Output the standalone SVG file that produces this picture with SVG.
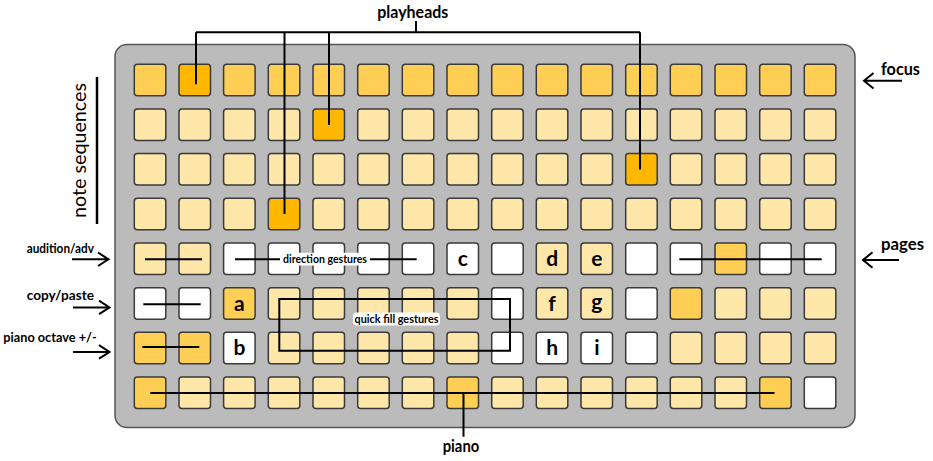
<svg xmlns="http://www.w3.org/2000/svg" width="933" height="461" viewBox="0 0 933 461">
<defs>
<style>
text{font-family:Lato,"Liberation Sans",sans-serif;fill:#000}
.k{stroke:#3a3a3a;stroke-width:1.5}
.m{fill:#FFCE55}.l{fill:#FFE6A9}.b{fill:#FFB700}.w{fill:#FFFFFF}
.ln{fill:none;stroke:#000;stroke-width:2}
.lab{font-weight:700;font-size:16.5px}
.sm{font-weight:700}
.ch{font-weight:700;font-size:21px;text-anchor:middle}
.tag{font-weight:700;font-size:10.5px;text-anchor:middle}
</style>
</defs>
<rect id="panel" x="115" y="44.5" width="740" height="383" rx="12" fill="#BBBBBB" stroke="#555" stroke-width="1.5"/>

<g id="grid">
<g id="r0">
<rect id="r0c0" class="k m" x="134.3" y="64.3" width="31.5" height="31.5" rx="3"/>
<rect id="r0c1" class="k b" x="179.0" y="64.3" width="31.5" height="31.5" rx="3"/>
<rect id="r0c2" class="k m" x="223.6" y="64.3" width="31.5" height="31.5" rx="3"/>
<rect id="r0c3" class="k m" x="268.3" y="64.3" width="31.5" height="31.5" rx="3"/>
<rect id="r0c4" class="k m" x="313.0" y="64.3" width="31.5" height="31.5" rx="3"/>
<rect id="r0c5" class="k m" x="357.7" y="64.3" width="31.5" height="31.5" rx="3"/>
<rect id="r0c6" class="k m" x="402.3" y="64.3" width="31.5" height="31.5" rx="3"/>
<rect id="r0c7" class="k m" x="447.0" y="64.3" width="31.5" height="31.5" rx="3"/>
<rect id="r0c8" class="k m" x="491.7" y="64.3" width="31.5" height="31.5" rx="3"/>
<rect id="r0c9" class="k m" x="536.3" y="64.3" width="31.5" height="31.5" rx="3"/>
<rect id="r0c10" class="k m" x="581.0" y="64.3" width="31.5" height="31.5" rx="3"/>
<rect id="r0c11" class="k m" x="625.7" y="64.3" width="31.5" height="31.5" rx="3"/>
<rect id="r0c12" class="k m" x="670.3" y="64.3" width="31.5" height="31.5" rx="3"/>
<rect id="r0c13" class="k m" x="715.0" y="64.3" width="31.5" height="31.5" rx="3"/>
<rect id="r0c14" class="k m" x="759.7" y="64.3" width="31.5" height="31.5" rx="3"/>
<rect id="r0c15" class="k m" x="804.3" y="64.3" width="31.5" height="31.5" rx="3"/>
</g>
<g id="r1">
<rect id="r1c0" class="k l" x="134.3" y="109.0" width="31.5" height="31.5" rx="3"/>
<rect id="r1c1" class="k l" x="179.0" y="109.0" width="31.5" height="31.5" rx="3"/>
<rect id="r1c2" class="k l" x="223.6" y="109.0" width="31.5" height="31.5" rx="3"/>
<rect id="r1c3" class="k l" x="268.3" y="109.0" width="31.5" height="31.5" rx="3"/>
<rect id="r1c4" class="k b" x="313.0" y="109.0" width="31.5" height="31.5" rx="3"/>
<rect id="r1c5" class="k l" x="357.7" y="109.0" width="31.5" height="31.5" rx="3"/>
<rect id="r1c6" class="k l" x="402.3" y="109.0" width="31.5" height="31.5" rx="3"/>
<rect id="r1c7" class="k l" x="447.0" y="109.0" width="31.5" height="31.5" rx="3"/>
<rect id="r1c8" class="k l" x="491.7" y="109.0" width="31.5" height="31.5" rx="3"/>
<rect id="r1c9" class="k l" x="536.3" y="109.0" width="31.5" height="31.5" rx="3"/>
<rect id="r1c10" class="k l" x="581.0" y="109.0" width="31.5" height="31.5" rx="3"/>
<rect id="r1c11" class="k l" x="625.7" y="109.0" width="31.5" height="31.5" rx="3"/>
<rect id="r1c12" class="k l" x="670.3" y="109.0" width="31.5" height="31.5" rx="3"/>
<rect id="r1c13" class="k l" x="715.0" y="109.0" width="31.5" height="31.5" rx="3"/>
<rect id="r1c14" class="k l" x="759.7" y="109.0" width="31.5" height="31.5" rx="3"/>
<rect id="r1c15" class="k l" x="804.3" y="109.0" width="31.5" height="31.5" rx="3"/>
</g>
<g id="r2">
<rect id="r2c0" class="k l" x="134.3" y="153.6" width="31.5" height="31.5" rx="3"/>
<rect id="r2c1" class="k l" x="179.0" y="153.6" width="31.5" height="31.5" rx="3"/>
<rect id="r2c2" class="k l" x="223.6" y="153.6" width="31.5" height="31.5" rx="3"/>
<rect id="r2c3" class="k l" x="268.3" y="153.6" width="31.5" height="31.5" rx="3"/>
<rect id="r2c4" class="k l" x="313.0" y="153.6" width="31.5" height="31.5" rx="3"/>
<rect id="r2c5" class="k l" x="357.7" y="153.6" width="31.5" height="31.5" rx="3"/>
<rect id="r2c6" class="k l" x="402.3" y="153.6" width="31.5" height="31.5" rx="3"/>
<rect id="r2c7" class="k l" x="447.0" y="153.6" width="31.5" height="31.5" rx="3"/>
<rect id="r2c8" class="k l" x="491.7" y="153.6" width="31.5" height="31.5" rx="3"/>
<rect id="r2c9" class="k l" x="536.3" y="153.6" width="31.5" height="31.5" rx="3"/>
<rect id="r2c10" class="k l" x="581.0" y="153.6" width="31.5" height="31.5" rx="3"/>
<rect id="r2c11" class="k b" x="625.7" y="153.6" width="31.5" height="31.5" rx="3"/>
<rect id="r2c12" class="k l" x="670.3" y="153.6" width="31.5" height="31.5" rx="3"/>
<rect id="r2c13" class="k l" x="715.0" y="153.6" width="31.5" height="31.5" rx="3"/>
<rect id="r2c14" class="k l" x="759.7" y="153.6" width="31.5" height="31.5" rx="3"/>
<rect id="r2c15" class="k l" x="804.3" y="153.6" width="31.5" height="31.5" rx="3"/>
</g>
<g id="r3">
<rect id="r3c0" class="k l" x="134.3" y="198.3" width="31.5" height="31.5" rx="3"/>
<rect id="r3c1" class="k l" x="179.0" y="198.3" width="31.5" height="31.5" rx="3"/>
<rect id="r3c2" class="k l" x="223.6" y="198.3" width="31.5" height="31.5" rx="3"/>
<rect id="r3c3" class="k b" x="268.3" y="198.3" width="31.5" height="31.5" rx="3"/>
<rect id="r3c4" class="k l" x="313.0" y="198.3" width="31.5" height="31.5" rx="3"/>
<rect id="r3c5" class="k l" x="357.7" y="198.3" width="31.5" height="31.5" rx="3"/>
<rect id="r3c6" class="k l" x="402.3" y="198.3" width="31.5" height="31.5" rx="3"/>
<rect id="r3c7" class="k l" x="447.0" y="198.3" width="31.5" height="31.5" rx="3"/>
<rect id="r3c8" class="k l" x="491.7" y="198.3" width="31.5" height="31.5" rx="3"/>
<rect id="r3c9" class="k l" x="536.3" y="198.3" width="31.5" height="31.5" rx="3"/>
<rect id="r3c10" class="k l" x="581.0" y="198.3" width="31.5" height="31.5" rx="3"/>
<rect id="r3c11" class="k l" x="625.7" y="198.3" width="31.5" height="31.5" rx="3"/>
<rect id="r3c12" class="k l" x="670.3" y="198.3" width="31.5" height="31.5" rx="3"/>
<rect id="r3c13" class="k l" x="715.0" y="198.3" width="31.5" height="31.5" rx="3"/>
<rect id="r3c14" class="k l" x="759.7" y="198.3" width="31.5" height="31.5" rx="3"/>
<rect id="r3c15" class="k l" x="804.3" y="198.3" width="31.5" height="31.5" rx="3"/>
</g>
<g id="r4">
<rect id="r4c0" class="k l" x="134.3" y="243.0" width="31.5" height="31.5" rx="3"/>
<rect id="r4c1" class="k l" x="179.0" y="243.0" width="31.5" height="31.5" rx="3"/>
<rect id="r4c2" class="k w" x="223.6" y="243.0" width="31.5" height="31.5" rx="3"/>
<rect id="r4c3" class="k w" x="268.3" y="243.0" width="31.5" height="31.5" rx="3"/>
<rect id="r4c4" class="k w" x="313.0" y="243.0" width="31.5" height="31.5" rx="3"/>
<rect id="r4c5" class="k w" x="357.7" y="243.0" width="31.5" height="31.5" rx="3"/>
<rect id="r4c6" class="k w" x="402.3" y="243.0" width="31.5" height="31.5" rx="3"/>
<g id="key-c"><rect class="k w" x="447.0" y="243.0" width="31.5" height="31.5" rx="3"/><text class="ch" x="462.8" y="266">c</text></g>
<rect id="r4c8" class="k w" x="491.7" y="243.0" width="31.5" height="31.5" rx="3"/>
<g id="key-d"><rect class="k l" x="536.3" y="243.0" width="31.5" height="31.5" rx="3"/><text class="ch" x="552.1" y="266">d</text></g>
<g id="key-e"><rect class="k l" x="581.0" y="243.0" width="31.5" height="31.5" rx="3"/><text class="ch" x="596.8" y="266">e</text></g>
<rect id="r4c11" class="k w" x="625.7" y="243.0" width="31.5" height="31.5" rx="3"/>
<rect id="r4c12" class="k w" x="670.3" y="243.0" width="31.5" height="31.5" rx="3"/>
<rect id="r4c13" class="k m" x="715.0" y="243.0" width="31.5" height="31.5" rx="3"/>
<rect id="r4c14" class="k w" x="759.7" y="243.0" width="31.5" height="31.5" rx="3"/>
<rect id="r4c15" class="k w" x="804.3" y="243.0" width="31.5" height="31.5" rx="3"/>
</g>
<g id="r5">
<rect id="r5c0" class="k w" x="134.3" y="287.7" width="31.5" height="31.5" rx="3"/>
<rect id="r5c1" class="k w" x="179.0" y="287.7" width="31.5" height="31.5" rx="3"/>
<g id="key-a"><rect class="k m" x="223.6" y="287.7" width="31.5" height="31.5" rx="3"/><text class="ch" x="239.4" y="310.7">a</text></g>
<rect id="r5c3" class="k l" x="268.3" y="287.7" width="31.5" height="31.5" rx="3"/>
<rect id="r5c4" class="k l" x="313.0" y="287.7" width="31.5" height="31.5" rx="3"/>
<rect id="r5c5" class="k l" x="357.7" y="287.7" width="31.5" height="31.5" rx="3"/>
<rect id="r5c6" class="k l" x="402.3" y="287.7" width="31.5" height="31.5" rx="3"/>
<rect id="r5c7" class="k l" x="447.0" y="287.7" width="31.5" height="31.5" rx="3"/>
<rect id="r5c8" class="k w" x="491.7" y="287.7" width="31.5" height="31.5" rx="3"/>
<g id="key-f"><rect class="k l" x="536.3" y="287.7" width="31.5" height="31.5" rx="3"/><text class="ch" x="552.1" y="310.7">f</text></g>
<g id="key-g"><rect class="k l" x="581.0" y="287.7" width="31.5" height="31.5" rx="3"/><text class="ch" x="596.8" y="308.7">g</text></g>
<rect id="r5c11" class="k w" x="625.7" y="287.7" width="31.5" height="31.5" rx="3"/>
<rect id="r5c12" class="k m" x="670.3" y="287.7" width="31.5" height="31.5" rx="3"/>
<rect id="r5c13" class="k l" x="715.0" y="287.7" width="31.5" height="31.5" rx="3"/>
<rect id="r5c14" class="k l" x="759.7" y="287.7" width="31.5" height="31.5" rx="3"/>
<rect id="r5c15" class="k l" x="804.3" y="287.7" width="31.5" height="31.5" rx="3"/>
</g>
<g id="r6">
<rect id="r6c0" class="k m" x="134.3" y="332.3" width="31.5" height="31.5" rx="3"/>
<rect id="r6c1" class="k m" x="179.0" y="332.3" width="31.5" height="31.5" rx="3"/>
<g id="key-b"><rect class="k w" x="223.6" y="332.3" width="31.5" height="31.5" rx="3"/><text class="ch" x="239.4" y="355.3">b</text></g>
<rect id="r6c3" class="k l" x="268.3" y="332.3" width="31.5" height="31.5" rx="3"/>
<rect id="r6c4" class="k l" x="313.0" y="332.3" width="31.5" height="31.5" rx="3"/>
<rect id="r6c5" class="k l" x="357.7" y="332.3" width="31.5" height="31.5" rx="3"/>
<rect id="r6c6" class="k l" x="402.3" y="332.3" width="31.5" height="31.5" rx="3"/>
<rect id="r6c7" class="k l" x="447.0" y="332.3" width="31.5" height="31.5" rx="3"/>
<rect id="r6c8" class="k w" x="491.7" y="332.3" width="31.5" height="31.5" rx="3"/>
<g id="key-h"><rect class="k w" x="536.3" y="332.3" width="31.5" height="31.5" rx="3"/><text class="ch" x="552.1" y="355.3">h</text></g>
<g id="key-i"><rect class="k w" x="581.0" y="332.3" width="31.5" height="31.5" rx="3"/><text class="ch" x="596.8" y="355.3">i</text></g>
<rect id="r6c11" class="k w" x="625.7" y="332.3" width="31.5" height="31.5" rx="3"/>
<rect id="r6c12" class="k l" x="670.3" y="332.3" width="31.5" height="31.5" rx="3"/>
<rect id="r6c13" class="k l" x="715.0" y="332.3" width="31.5" height="31.5" rx="3"/>
<rect id="r6c14" class="k l" x="759.7" y="332.3" width="31.5" height="31.5" rx="3"/>
<rect id="r6c15" class="k l" x="804.3" y="332.3" width="31.5" height="31.5" rx="3"/>
</g>
<g id="r7">
<rect id="r7c0" class="k m" x="134.3" y="377.0" width="31.5" height="31.5" rx="3"/>
<rect id="r7c1" class="k l" x="179.0" y="377.0" width="31.5" height="31.5" rx="3"/>
<rect id="r7c2" class="k l" x="223.6" y="377.0" width="31.5" height="31.5" rx="3"/>
<rect id="r7c3" class="k l" x="268.3" y="377.0" width="31.5" height="31.5" rx="3"/>
<rect id="r7c4" class="k l" x="313.0" y="377.0" width="31.5" height="31.5" rx="3"/>
<rect id="r7c5" class="k l" x="357.7" y="377.0" width="31.5" height="31.5" rx="3"/>
<rect id="r7c6" class="k l" x="402.3" y="377.0" width="31.5" height="31.5" rx="3"/>
<rect id="r7c7" class="k m" x="447.0" y="377.0" width="31.5" height="31.5" rx="3"/>
<rect id="r7c8" class="k l" x="491.7" y="377.0" width="31.5" height="31.5" rx="3"/>
<rect id="r7c9" class="k l" x="536.3" y="377.0" width="31.5" height="31.5" rx="3"/>
<rect id="r7c10" class="k l" x="581.0" y="377.0" width="31.5" height="31.5" rx="3"/>
<rect id="r7c11" class="k l" x="625.7" y="377.0" width="31.5" height="31.5" rx="3"/>
<rect id="r7c12" class="k l" x="670.3" y="377.0" width="31.5" height="31.5" rx="3"/>
<rect id="r7c13" class="k l" x="715.0" y="377.0" width="31.5" height="31.5" rx="3"/>
<rect id="r7c14" class="k m" x="759.7" y="377.0" width="31.5" height="31.5" rx="3"/>
<rect id="r7c15" class="k w" x="804.3" y="377.0" width="31.5" height="31.5" rx="3"/>
</g>
</g>

<g id="connectors" class="ln">
<path d="M416,21V32.3M196,32.3H640M196,32.3V84.3M284.5,32.3V214M329,32.3V125M640,32.3V169.5"/>
<path d="M145,259.3H202M143.3,304.3H200.7M142.3,347H199.3"/>
<path d="M235,259.3H416.7"/>
<path d="M679.3,259.3H821.7"/>
<path d="M279.3,299H510V350.7H279.3Z"/>
<path d="M150.3,393H774.5M463.5,393V436.7"/>
<path d="M97,77V224" stroke-width="2.5"/>
<path d="M72,259.3H108M98,252.5L108.5,259.3L98,266"/>
<path d="M73,307.5H109M99,300.7L109.5,307.5L99,314.2"/>
<path d="M73,352H109M99,345.2L109.5,352L99,358.7"/>
<path d="M902,80.7H864.3M873.5,73L864,80.7L873.5,88.5"/>
<path d="M899,260H863.3M872.5,252.3L863,260L872.5,267.8"/>
</g>

<g id="label-direction">
<rect x="280" y="252.8" width="90" height="12.8" rx="4" fill="#fff"/>
<text class="tag" x="325" y="262.8" textLength="84" lengthAdjust="spacingAndGlyphs">direction gestures</text>
</g>
<g id="label-quickfill">
<rect x="353" y="312.5" width="87" height="13" rx="4" fill="#fff"/>
<text class="tag" x="396.5" y="322.5" textLength="84" lengthAdjust="spacingAndGlyphs">quick fill gestures</text>
</g>

<g id="labels">
<text class="lab" x="412.8" y="18.3" text-anchor="middle" textLength="71" lengthAdjust="spacingAndGlyphs">playheads</text>
<text class="lab" x="461" y="451.7" text-anchor="middle" font-size="16" textLength="36.7" lengthAdjust="spacingAndGlyphs">piano</text>
<text class="lab" x="881" y="75" textLength="39" lengthAdjust="spacingAndGlyphs">focus</text>
<text class="lab" x="881" y="250" textLength="43" lengthAdjust="spacingAndGlyphs">pages</text>
<text class="sm" x="26.7" y="253.3" font-size="12.5" textLength="67.3" lengthAdjust="spacingAndGlyphs">audition/adv</text>
<text class="sm" x="26.7" y="299.5" font-size="13.5" textLength="67.3" lengthAdjust="spacingAndGlyphs">copy/paste</text>
<text class="sm" x="3.3" y="341.5" font-size="13" textLength="93.4" lengthAdjust="spacingAndGlyphs">piano octave +/-</text>
<text x="0" y="0" text-anchor="middle" font-size="20" transform="translate(85.5,150.5) rotate(-90)" textLength="135" lengthAdjust="spacingAndGlyphs">note sequences</text>
</g>
</svg>
